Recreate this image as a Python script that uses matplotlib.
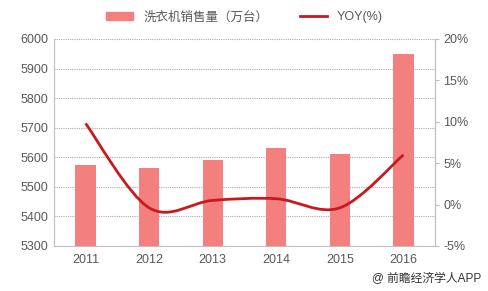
import matplotlib.pyplot as plt
from matplotlib.path import Path
from matplotlib.patches import PathPatch
from matplotlib.lines import Line2D
from matplotlib.patches import Patch
import numpy as np

plt.rcParams['font.family'] = ['Liberation Sans', 'Noto Sans CJK SC', 'DejaVu Sans']

years = ['2011', '2012', '2013', '2014', '2015', '2016']
sales = [5572, 5563, 5591, 5632, 5612, 5950]
yoy = [9.8, -0.4, 0.5, 0.7, -0.4, 6.0]

bar_color = '#F47F7F'
line_color = '#C8191E'
text_color = '#595959'

fig = plt.figure(figsize=(4.89, 2.91), dpi=100)
ax = fig.add_axes([0.110, 0.155, 0.780, 0.711])
x = np.arange(len(years))
ax.bar(x, [s - 5300 for s in sales], bottom=5300, width=0.32, color=bar_color, zorder=2)
ax.set_xlim(-0.5, 5.5)
ax.set_ylim(5300, 6000)
ax.set_yticks(range(5300, 6001, 100))
ax.set_xticks(x)
ax.set_xticklabels(years)
ax.yaxis.grid(True, linestyle=(0, (1, 1)), color='#aaaaaa', linewidth=0.8, zorder=0)
ax.tick_params(axis='both', labelsize=9, colors=text_color, length=0, pad=4)
ax.tick_params(axis='x', pad=6)
ax.spines['top'].set_visible(False)
for side in ['left', 'bottom', 'right']:
    ax.spines[side].set_color('#bfbfbf')

ax2 = ax.twinx()
ax2.set_ylim(-5, 20)
ax2.set_yticks(range(-5, 21, 5))
ax2.set_yticklabels([f'{v}%' for v in range(-5, 21, 5)])
ax2.tick_params(axis='y', labelsize=9, colors=text_color, length=3, color='#bfbfbf', pad=3)
for side in ['top', 'left', 'bottom']:
    ax2.spines[side].set_visible(False)
ax2.spines['right'].set_color('#bfbfbf')

# smooth line through the points (Catmull-Rom as cubic Bezier)
pts = np.column_stack([x, yoy]).astype(float)
verts = [tuple(pts[0])]
codes = [Path.MOVETO]
for i in range(len(pts) - 1):
    p0 = pts[i - 1] if i > 0 else pts[i]
    p1 = pts[i]
    p2 = pts[i + 1]
    p3 = pts[i + 2] if i + 2 < len(pts) else pts[i + 1]
    c1 = p1 + (p2 - p0) / 6
    c2 = p2 - (p3 - p1) / 6
    verts += [tuple(c1), tuple(c2), tuple(p2)]
    codes += [Path.CURVE4] * 3
ax2.add_patch(PathPatch(Path(verts, codes), facecolor='none', edgecolor=line_color, linewidth=2, zorder=3))

handles = [Patch(color=bar_color), Line2D([0], [0], color=line_color, lw=2)]
fig.legend(handles, ['洗衣机销售量（万台）', 'YOY(%)'], loc='upper center',
           bbox_to_anchor=(0.5, 1.0), ncol=2, frameon=False, fontsize=9,
           labelcolor=text_color, handlelength=2.2, handleheight=0.6, columnspacing=2.5)

fig.text(0.985, 0.02, '@ 前瞻经济学人APP', ha='right', va='bottom', fontsize=8.5, color='#333333')

fig.savefig('out.png', dpi=100)
